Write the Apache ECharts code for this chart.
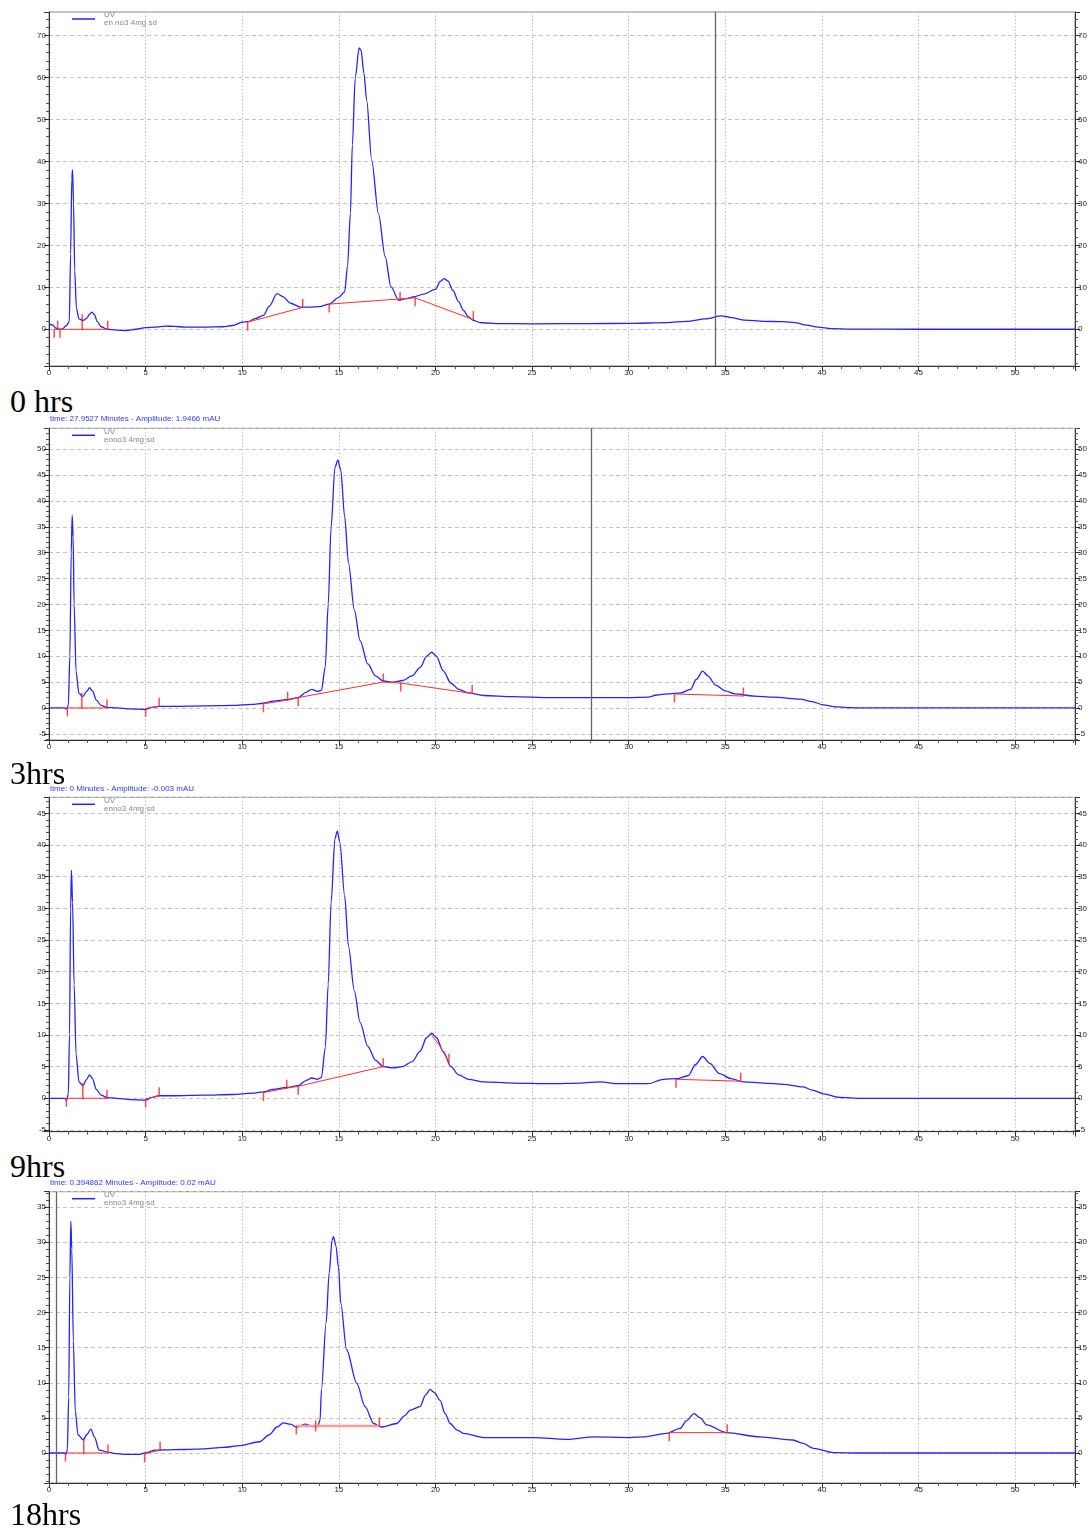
<!DOCTYPE html>
<html>
<head>
<meta charset="utf-8">
<script src="https://cdn.jsdelivr.net/npm/echarts@6/dist/echarts.min.js"></script>
<style>
  body { margin: 0; background: #fff; width: 1092px; height: 1530px; position: relative; overflow: hidden; }
  .panel { position: absolute; left: 0; width: 1092px; overflow: hidden; }
  .tag { position: absolute; left: 10px; font-family: 'Liberation Serif', 'Times New Roman', serif; font-size: 32px; line-height: 1; color: #000; }
</style>
</head>
<body>
<div id="p0" class="panel" style="top:0;height:383px"></div>
<div class="tag" style="top:385px">0 hrs</div>
<div id="p1" class="panel" style="top:412px;height:345px"></div>
<div class="tag" style="top:757px">3hrs</div>
<div id="p2" class="panel" style="top:782px;height:366px"></div>
<div class="tag" style="top:1150px">9hrs</div>
<div id="p3" class="panel" style="top:1176px;height:322px"></div>
<div class="tag" style="top:1498px">18hrs</div>

<script>
// UV traces, [minutes, mAU]
const trace0h = [[0,1.2],[0.2,1.0],[0.35,0.3],[0.5,0.0],[0.7,0.1],[0.9,0.9],[1.05,1.8],[1.12,18],[1.18,36],[1.22,38],[1.27,30],[1.33,14],[1.42,5],[1.55,2.5],[1.75,2.1],[1.95,2.6],[2.1,3.6],[2.22,4.1],[2.35,3.5],[2.5,1.8],[2.7,0.6],[3.0,0.0],[3.5,-0.2],[4.0,-0.3],[4.5,0.0],[5.0,0.4],[5.5,0.5],[6.0,0.75],[6.5,0.7],[7.0,0.5],[8.0,0.5],[9.0,0.6],[9.5,0.9],[10.0,1.7],[10.3,1.8],[10.7,2.6],[11.1,3.3],[11.4,5.5],[11.8,8.5],[12.1,7.8],[12.5,6.2],[13.0,5.3],[13.5,5.3],[14.0,5.4],[14.5,6.0],[15.0,7.6],[15.3,8.9],[15.45,15],[15.6,27.7],[15.7,44],[15.85,60],[16.05,67.1],[16.15,66.5],[16.3,61],[16.44,54.7],[16.7,40.3],[17.05,27.6],[17.4,17.3],[17.7,10.1],[18.1,6.9],[18.5,7.3],[18.85,7.7],[19.4,8.4],[20.0,9.5],[20.25,11.4],[20.45,12.1],[20.65,11.5],[20.9,9.3],[21.2,6.6],[21.45,4.5],[21.7,3.0],[21.96,2.1],[22.3,1.6],[22.65,1.5],[23.3,1.35],[25,1.3],[28,1.35],[30,1.4],[32,1.6],[33,1.9],[34,2.5],[34.8,3.2],[35.3,2.8],[36,2.2],[37,1.9],[38,1.8],[38.6,1.6],[39.2,1.0],[39.8,0.5],[40.5,0.15],[41.5,0.05],[45,0],[53.1,0]];
const trace3h = [[0,0],[0.8,0],[0.9,-0.2],[1.0,0.5],[1.08,10],[1.15,30],[1.2,37.2],[1.25,33],[1.3,20],[1.4,7],[1.55,2.8],[1.75,2.2],[1.95,3.2],[2.1,3.9],[2.25,3.3],[2.45,1.5],[2.7,0.5],[3.0,0.1],[3.5,0],[4.2,-0.2],[5.0,-0.3],[5.3,0.1],[5.7,0.3],[6.5,0.3],[8,0.4],[9.5,0.5],[10.5,0.7],[11.1,0.9],[11.6,1.3],[12.3,1.6],[12.9,2.0],[13.3,3.0],[13.6,3.6],[13.9,3.2],[14.1,3.4],[14.3,8],[14.45,20],[14.6,35],[14.8,46.5],[14.95,47.9],[15.1,46],[15.3,37],[15.5,28],[15.8,19],[16.1,13],[16.5,8.5],[16.9,6.2],[17.3,5.2],[17.8,5.0],[18.3,5.3],[18.8,6.2],[19.2,7.8],[19.55,10],[19.8,10.8],[20.05,10],[20.4,7.2],[20.8,4.8],[21.2,3.6],[21.7,2.9],[22.5,2.4],[24,2.2],[26,2.0],[28,2.0],[30,2.0],[31,2.1],[31.45,2.5],[32,2.7],[32.7,2.9],[33.2,3.6],[33.5,5.5],[33.83,7.1],[34.1,6.2],[34.5,4.4],[35,3.3],[35.5,2.7],[36.5,2.3],[37.5,2.1],[38.87,1.7],[39.5,1.2],[40.08,0.6],[40.6,0.25],[41.5,0.05],[42,0],[53.1,0]];
const trace9h = [[0,0],[0.8,0],[0.9,-0.3],[1.0,0.6],[1.06,10],[1.12,30],[1.16,36],[1.22,31],[1.3,18],[1.4,7],[1.55,2.6],[1.75,2.0],[1.95,3.0],[2.1,3.7],[2.25,3.1],[2.45,1.4],[2.7,0.5],[3.0,0.1],[3.5,0],[4.2,-0.2],[5.0,-0.3],[5.3,0.1],[5.7,0.4],[6.5,0.4],[8,0.5],[9.5,0.6],[10.5,0.8],[11.1,1.0],[11.6,1.4],[12.3,1.7],[12.9,2.0],[13.3,2.8],[13.6,3.2],[13.9,3.0],[14.1,3.3],[14.3,8],[14.45,18],[14.6,31],[14.8,41],[14.92,42.2],[15.05,40.5],[15.3,32],[15.5,24],[15.8,17],[16.1,12],[16.5,8.2],[16.9,6.0],[17.3,5.0],[17.8,4.8],[18.3,5.0],[18.8,5.8],[19.2,7.4],[19.55,9.6],[19.8,10.3],[20.05,9.6],[20.4,7.4],[20.8,5.0],[21.2,3.7],[21.7,3.0],[22.5,2.6],[24,2.4],[26,2.3],[27.5,2.4],[28.5,2.6],[29.5,2.3],[31,2.3],[31.8,3.0],[32.5,3.1],[33.1,3.6],[33.45,5.3],[33.83,6.6],[34.2,5.5],[34.7,3.9],[35.3,3.1],[35.94,2.6],[37,2.4],[38,2.2],[39.04,1.8],[39.5,1.3],[40.08,0.7],[40.9,0.15],[42,0.0],[53.1,0]];
const trace18h = [[0,0],[0.8,0],[0.88,-0.2],[0.95,0.5],[1.02,8],[1.08,25],[1.13,33],[1.18,29],[1.26,16],[1.36,6],[1.5,2.6],[1.78,1.85],[1.95,2.6],[2.17,3.4],[2.35,2.3],[2.6,0.4],[3.1,0.1],[3.5,-0.1],[4.0,-0.2],[4.7,-0.2],[4.96,0],[5.5,0.4],[6,0.45],[7,0.5],[8,0.6],[9,0.8],[9.9,1.05],[10.9,1.6],[11.4,2.6],[11.8,3.7],[12.13,4.3],[12.5,4.1],[12.82,3.66],[13.25,4.1],[13.68,3.75],[13.9,3.75],[14.03,4.7],[14.1,9],[14.34,18.5],[14.5,25.6],[14.65,30.3],[14.72,30.8],[14.85,29.5],[14.98,26.5],[15.1,21.3],[15.4,14.7],[15.93,9.9],[16.36,6.6],[16.8,4.2],[17.2,3.7],[18.0,4.2],[18.4,5.3],[18.7,6.1],[19.2,6.6],[19.5,8.3],[19.72,9.05],[19.95,8.6],[20.24,7.5],[20.5,5.6],[20.76,4.2],[21.1,3.3],[21.45,2.8],[22.5,2.2],[25.07,2.2],[26.8,1.95],[28.2,2.3],[30.07,2.2],[30.76,2.3],[31.97,2.8],[32.66,3.5],[33.0,4.6],[33.38,5.6],[33.7,5.0],[34.04,4.0],[35.07,2.9],[36.8,2.3],[38.5,1.85],[39.0,1.4],[39.56,0.67],[40.6,0.05],[42,0],[53.1,0]];

// integration baselines (null = gap)
const base0h = [[0.27,0],[3.04,0],null,[10.28,1.7],[13.13,5.2],null,[14.5,6.0],[18.95,7.5],[21.96,2.3]];
const base3h = [[0.9,0],[3.0,0],null,[5.0,-0.1],[5.7,0.3],null,[11.1,0.8],[12.35,1.5],[12.9,2.0],[17.3,5.0],[18.2,4.8],[21.9,2.8],null,[32.37,2.7],[35.94,2.3]];
const base9h = [[0.9,0],[3.0,0],null,[5.0,-0.1],[5.7,0.4],null,[11.1,0.9],[12.3,1.6],[12.9,1.9],[17.3,5.0],null,[19.75,10.2],[20.2,8.4],[20.7,5.7],null,[32.45,3.0],[35.8,2.7]];
const base18h = [[0.85,0],[3.05,0],null,[4.95,-0.1],[5.75,0.4],null,[32.1,2.9],[35.1,2.9]];
const baseWide18h = [[12.8,3.85],[17.1,3.85]];

// peak start / end markers
const tickUp0h = [[0.45,0],[3.04,0],[13.13,5.2],[18.17,6.9],[21.96,2.3]];
const tickDown0h = [[0.27,0],[0.57,0],[10.28,1.7],[14.5,6.0],[18.95,7.5]];
const tickTall0h = [[1.72,0]];
const tickUp3h = [[3.0,0],[5.7,0.3],[12.35,1.5],[17.3,5.0],[21.9,2.8],[35.94,2.3]];
const tickDown3h = [[0.95,0],[5.0,-0.1],[11.1,0.8],[12.9,2.0],[18.2,4.8],[32.37,2.7]];
const tickTall3h = [[1.7,0]];
const tickUp9h = [[3.0,0],[5.7,0.4],[12.3,1.6],[17.3,5.0],[20.7,5.7],[35.8,2.7]];
const tickDown9h = [[0.9,0],[5.0,-0.1],[11.1,0.9],[12.9,1.9],[32.45,3.0]];
const tickTall9h = [[1.75,0]];
const tickUp18h = [[3.05,0],[5.75,0.4],[17.1,3.85],[35.1,2.9]];
const tickDown18h = [[0.85,0],[4.95,-0.1],[12.8,3.85],[32.1,2.9]];
const tickTall18h = [[1.8,0]];
const tickCross18h = [[13.8,3.85]];

const xTicks = [0, 5, 10, 15, 20, 25, 30, 35, 40, 45, 50];

const panels = [
  { id: 'p0', trace: trace0h, base: base0h, wide: [], up: tickUp0h, down: tickDown0h, tall: tickTall0h, cross: [],
    sample: 'en no3 4mg sd', header: '', cursor: 34.47,
    gridTop: 12, gridHeight: 354, yMin: -8.76, yMax: 75.66, split: 8 },
  { id: 'p1', trace: trace3h, base: base3h, wide: [], up: tickUp3h, down: tickDown3h, tall: tickTall3h, cross: [],
    sample: 'enno3 4mg sd', header: 'time: 27.9527 Minutes - Amplitude: 1.9466 mAU', cursor: 28.04,
    gridTop: 16.3, gridHeight: 311.7, yMin: -6.2, yMax: 54.05, split: 12 },
  { id: 'p2', trace: trace9h, base: base9h, wide: [], up: tickUp9h, down: tickDown9h, tall: tickTall9h, cross: [],
    sample: 'enno3 4mg sd', header: 'time: 0 Minutes - Amplitude: -0.003 mAU', cursor: null,
    gridTop: 15.3, gridHeight: 334.4, yMin: -5.28, yMax: 47.55, split: 10 },
  { id: 'p3', trace: trace18h, base: base18h, wide: baseWide18h, up: tickUp18h, down: tickDown18h, tall: tickTall18h, cross: tickCross18h,
    sample: 'enno3 4mg sd', header: 'time: 0.394862 Minutes - Amplitude: 0.02 mAU', cursor: 0.4,
    gridTop: 15.7, gridHeight: 291.3, yMin: -4.27, yMax: 37.2, split: 8 }
];

const FONT = 'Liberation Sans, Arial, sans-serif';

function yAxisOf(p, side) {
  return {
    type: 'value',
    position: side,
    min: p.yMin,
    max: p.yMax,
    splitNumber: p.split,
    axisLine: { show: true, lineStyle: { color: '#333', width: 1 } },
    axisTick: { show: true, length: 5, lineStyle: { color: '#333' } },
    minorTick: { show: true, splitNumber: 5, length: 3, lineStyle: { color: '#555' } },
    axisLabel: { fontSize: 8, color: '#222', margin: 3, fontFamily: FONT, showMinLabel: false, showMaxLabel: false },
    splitLine: { show: side === 'left', lineStyle: { color: '#c4c4c4', type: [4, 3], width: 1 } }
  };
}

function tickSeries(data, size, offset) {
  return {
    type: 'scatter', data: data, symbol: 'rect', symbolSize: size, symbolOffset: offset,
    itemStyle: { color: '#ff2020' }, silent: true, z: 5
  };
}

panels.forEach(function (p) {
  const chart = echarts.init(document.getElementById(p.id), null, { renderer: 'canvas' });
  chart.setOption({
    animation: false,
    textStyle: { fontFamily: FONT },
    title: {
      show: !!p.header, text: p.header, left: 50, top: 3, padding: 0,
      textStyle: { color: '#2a3cff', fontSize: 8, fontWeight: 'normal', fontFamily: FONT }
    },
    legend: {
      data: ['UV'], left: 72, top: p.gridTop - 1, padding: 0, itemWidth: 23, itemHeight: 1.5, icon: 'rect',
      formatter: function (name) { return name + '\n' + p.sample; },
      textStyle: { color: '#888', fontSize: 8, lineHeight: 8, fontFamily: FONT, padding: [0, 0, 0, 4] }
    },
    grid: { left: 49, right: 17, top: p.gridTop, height: p.gridHeight, show: true, borderColor: '#888', borderWidth: 1,
      outerBoundsMode: 'none', containLabel: false },
    xAxis: {
      type: 'value', min: 0, max: 53.1, splitNumber: 10,
      name: 'Minutes', nameLocation: 'middle', nameGap: 15,
      nameTextStyle: { fontSize: 8, color: '#222', fontFamily: FONT },
      axisLine: { show: true, onZero: false, lineStyle: { color: '#333' } },
      axisTick: { show: true, length: 5, lineStyle: { color: '#333' } },
      minorTick: { show: true, splitNumber: 5, length: 3, lineStyle: { color: '#555' } },
      axisLabel: { fontSize: 8, color: '#222', margin: 3, fontFamily: FONT, showMaxLabel: false,
        formatter: function (v) { return xTicks.indexOf(v) >= 0 ? String(v) : ''; } },
      splitLine: { show: true, lineStyle: { color: '#bdbdbd', type: [1.5, 2], width: 1 } }
    },
    yAxis: [yAxisOf(p, 'left'), yAxisOf(p, 'right')],
    series: [
      {
        name: 'UV', type: 'line', data: p.trace, showSymbol: false, smooth: 0.3, smoothMonotone: 'x',
        lineStyle: { color: '#2424ff', width: 1.3 }, itemStyle: { color: '#2424ff' }, z: 3,
        markLine: p.cursor == null ? undefined : {
          silent: true, symbol: 'none', label: { show: false },
          lineStyle: { color: '#666', type: 'solid', width: 1.3 },
          data: [{ xAxis: p.cursor }]
        }
      },
      {
        type: 'line', data: p.base, showSymbol: false, connectNulls: false, silent: true,
        lineStyle: { color: '#ff3030', width: 1 }, z: 4
      },
      {
        type: 'line', data: p.wide, showSymbol: false, silent: true,
        lineStyle: { color: '#ff9c9c', width: 2.5 }, z: 4
      },
      tickSeries(p.up, [1.5, 9], [0, -4]),
      tickSeries(p.down, [1.5, 9], [0, 4]),
      tickSeries(p.tall, [1.5, 16], [0, -7]),
      tickSeries(p.cross, [1.5, 11], [0, 0])
    ]
  });
});
</script>
</body>
</html>
